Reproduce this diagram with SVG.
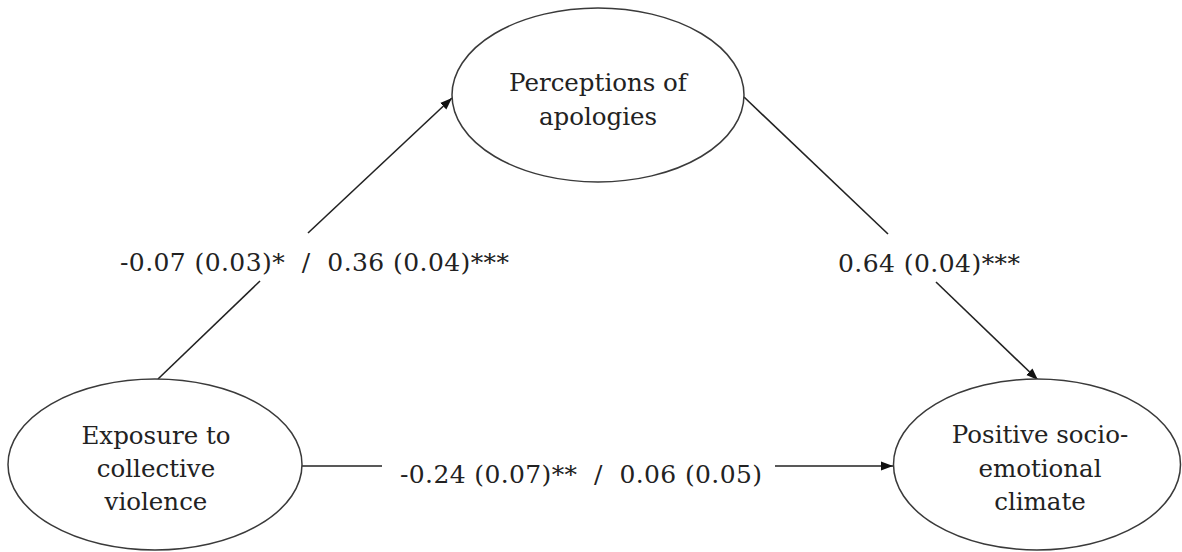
<svg xmlns="http://www.w3.org/2000/svg" width="1182" height="552" viewBox="0 0 1182 552">
  <style>
    .node ellipse { fill: #ffffff; stroke: #3a3a3a; stroke-width: 1.5; }
    .node text { font-family: "DejaVu Serif", "Liberation Serif", serif; font-size: 24.5px; fill: #222; text-anchor: middle; }
    .edge { stroke: #222; stroke-width: 1.6; fill: none; }
    .lbl { font-family: "DejaVu Serif", "Liberation Serif", serif; font-size: 25px; fill: #222; }
  </style>
  <defs>
    <marker id="arr" markerUnits="userSpaceOnUse" markerWidth="14" markerHeight="10" refX="12" refY="5" orient="auto">
      <path d="M0,0.5 L12,5 L0,9.5 Z" fill="#111"/>
    </marker>
  </defs>
  <rect width="1182" height="552" fill="#ffffff"/>

  <g id="connectors">
    <line class="edge" x1="158" y1="379" x2="260" y2="281"/>
    <line class="edge" x1="308" y1="233" x2="452" y2="98" marker-end="url(#arr)"/>
    <line class="edge" x1="744" y1="97" x2="888" y2="234"/>
    <line class="edge" x1="936" y1="282" x2="1038" y2="380" marker-end="url(#arr)"/>
    <line class="edge" x1="302" y1="466" x2="382" y2="466"/>
    <line class="edge" x1="775" y1="466" x2="893" y2="466" marker-end="url(#arr)"/>
    <text class="lbl" x="120" y="271" textLength="389" lengthAdjust="spacing" xml:space="preserve">-0.07 (0.03)*  /  0.36 (0.04)***</text>
    <text class="lbl" x="838" y="272" textLength="182" lengthAdjust="spacing">0.64 (0.04)***</text>
    <text class="lbl" x="400" y="483" textLength="362" lengthAdjust="spacing" xml:space="preserve">-0.24 (0.07)**  /  0.06 (0.05)</text>
  </g>

  <g id="node-apologies" class="node">
    <ellipse cx="598" cy="95" rx="146" ry="87"/>
    <text x="598" y="91">Perceptions of</text>
    <text x="598" y="125">apologies</text>
  </g>

  <g id="node-exposure" class="node">
    <ellipse cx="155" cy="464.5" rx="147" ry="85.5"/>
    <text x="156" y="444">Exposure to</text>
    <text x="156" y="477">collective</text>
    <text x="156" y="510">violence</text>
  </g>

  <g id="node-climate" class="node">
    <ellipse cx="1037" cy="464.5" rx="143.5" ry="85.5"/>
    <text x="1040" y="443">Positive socio-</text>
    <text x="1040" y="477">emotional</text>
    <text x="1040" y="510">climate</text>
  </g>
</svg>
